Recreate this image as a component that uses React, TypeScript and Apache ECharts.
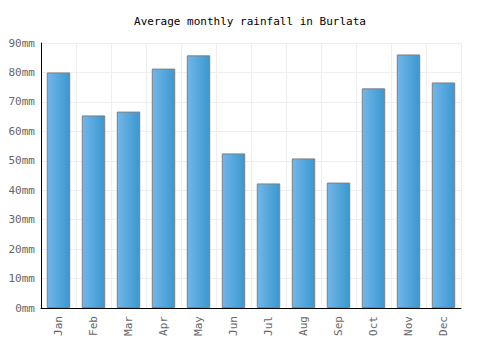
import React, { useEffect, useRef } from "react";
import * as echarts from "echarts";

const months = ["Jan", "Feb", "Mar", "Apr", "May", "Jun", "Jul", "Aug", "Sep", "Oct", "Nov", "Dec"];
const rainfall = [80.0, 65.4, 66.7, 81.3, 85.8, 52.5, 42.3, 50.8, 42.6, 74.6, 86.1, 76.6];
const yTicks = { min: 0, max: 90, interval: 10 };

const FONT = "'DejaVu Sans Mono', monospace";

export default function App() {
  const ref = useRef<HTMLDivElement>(null);
  useEffect(() => {
    const chart = echarts.init(ref.current!, null, { renderer: "svg" });
    chart.setOption({
      animation: false,
      title: {
        text: "Average monthly rainfall in Burlata",
        left: "center",
        top: 11,
        textStyle: { fontFamily: FONT, fontSize: 11, fontWeight: "normal", color: "#000" },
      },
      grid: { left: 41, right: 39, top: 43, bottom: 42, containLabel: false },
      xAxis: {
        type: "category",
        data: months,
        axisLine: { show: true, lineStyle: { color: "#000", width: 1 } },
        axisTick: { show: false },
        splitLine: { show: true, lineStyle: { color: "#eeeeee" } },
        axisLabel: {
          rotate: 90,
          fontFamily: FONT,
          fontSize: 11,
          color: "#666",
          margin: 8,
          interval: 0,
        },
      },
      yAxis: {
        type: "value",
        min: yTicks.min,
        max: yTicks.max,
        interval: yTicks.interval,
        axisLine: { show: true, lineStyle: { color: "#000", width: 1 } },
        axisTick: { show: false },
        splitLine: { show: true, lineStyle: { color: "#eeeeee" } },
        axisLabel: {
          formatter: "{value}mm",
          fontFamily: FONT,
          fontSize: 11,
          color: "#666",
          margin: 6,
        },
      },
      series: [
        {
          type: "bar",
          data: rainfall,
          barWidth: "67%",
          itemStyle: {
            color: new echarts.graphic.LinearGradient(0, 0, 1, 0, [
              { offset: 0, color: "#72b6ea" },
              { offset: 1, color: "#3a98cf" },
            ]),
            borderColor: "#808080",
            borderWidth: 1,
          },
        },
      ],
    });
    return () => chart.dispose();
  }, []);
  return <div ref={ref} style={{ width: 500, height: 350, position: "absolute", left: 0, top: 0 }} />;
}
